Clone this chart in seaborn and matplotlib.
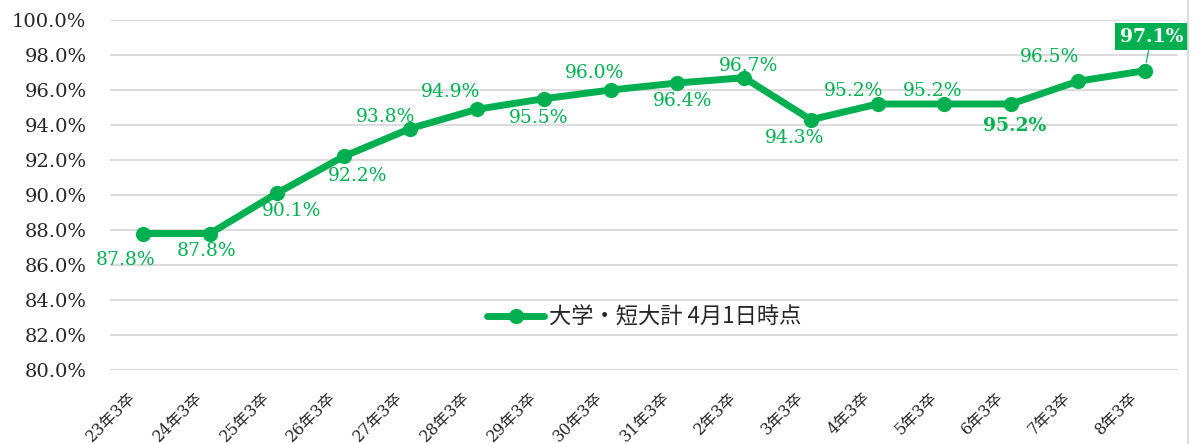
import matplotlib
matplotlib.use("Agg")
import matplotlib.pyplot as plt
import matplotlib.transforms as mtransforms
from matplotlib.lines import Line2D
import seaborn as sns
import pandas as pd

categories = ["23年3卒", "24年3卒", "25年3卒", "26年3卒", "27年3卒", "28年3卒", "29年3卒",
              "30年3卒", "31年3卒", "2年3卒", "3年3卒", "4年3卒", "5年3卒", "6年3卒",
              "7年3卒", "8年3卒"]
values = [87.8, 87.8, 90.1, 92.2, 93.8, 94.9, 95.5, 96.0, 96.4, 96.7, 94.3, 95.2, 95.2, 95.2, 96.5, 97.1]
series_name = "大学・短大計 4月1日時点"

sns.set_theme(style="white")
plt.rcParams['font.family'] = ['DejaVu Serif', 'Noto Sans CJK JP']

GREEN = "#00B050"
df = pd.DataFrame({"cat": categories, "val": values, "series": series_name})

fig = plt.figure(figsize=(11.95, 4.44), dpi=100)
ax = fig.add_axes([110 / 1195, 1 - 370 / 444, (1178 - 110) / 1195, 350 / 444])

sns.lineplot(data=df, x="cat", y="val", hue="series", palette=[GREEN], sort=False,
             linewidth=5, marker="o", markersize=11, markeredgewidth=0, ax=ax)

ax.set_ylim(80, 100)
ax.set_xlim(-0.5, len(categories) - 0.5)
ax.set_yticks(range(80, 101, 2))
ax.set_yticklabels([f"{v:.1f}%" for v in range(80, 101, 2)], fontsize=14,
                   family=['DejaVu Serif'])
ax.yaxis.grid(True, color="#D9D9D9", linewidth=1.3)
ax.set_axisbelow(True)
ax.set_xticks(range(len(categories)))
ax.set_xticklabels(categories, rotation=45, ha="right", rotation_mode="anchor",
                   fontsize=11.5, family=['DejaVu Serif', 'Noto Sans CJK JP'])
ax.tick_params(axis="y", length=0, pad=17)
ax.tick_params(axis="x", length=0, pad=8)
shift = mtransforms.ScaledTranslation(-16 / 100, -8 / 100, fig.dpi_scale_trans)
for lab in ax.get_xticklabels():
    lab.set_transform(lab.get_transform() + shift)
ax.set_xlabel("")
ax.set_ylabel("")
for s in ax.spines.values():
    s.set_visible(False)
ax.axhline(80, color="#D0D0D0", linewidth=2.2, zorder=0.5)

# label offsets in pixels (dx, dy)
offsets = [(-18, -26), (-4, -17), (15, -18), (14, -20), (-25, 12), (-27, 17), (-5, -19),
           (-16, 17), (5, -18), (4, 12), (-16, -18), (-24, 13), (-12, 13), (4, -22),
           (-28, 24), (0, 0)]
for i, (v, (dx, dy)) in enumerate(zip(values, offsets)):
    label = f"{v:.1f}%"
    if i == len(values) - 1:
        ax.annotate(label, xy=(i, v), xytext=(i + 0.1, v + 1.95), ha="center", va="center",
                    fontsize=13.5, fontweight="bold", color="white",
                    bbox=dict(boxstyle="square,pad=0.25", fc=GREEN, ec="none"),
                    arrowprops=dict(arrowstyle="-", color=GREEN, lw=0.8, shrinkA=0, shrinkB=6))
    else:
        ax.annotate(label, xy=(i, v), xytext=(dx, dy), textcoords="offset pixels",
                    ha="center", va="center", fontsize=13.5, color=GREEN,
                    fontweight="bold" if i == 13 else "normal")

leg = ax.legend(loc="center", bbox_to_anchor=(0.5, 0.15), frameon=False,
                handlelength=2.6, handletextpad=0.2,
                prop={'family': ['Noto Sans CJK JP', 'DejaVu Serif'], 'size': 16})

fig.add_artist(Line2D([1188 / 1195, 1188 / 1195], [0, 1], transform=fig.transFigure,
                      color="#D9D9D9", lw=1.3))
fig.savefig("out.png", dpi=100)
